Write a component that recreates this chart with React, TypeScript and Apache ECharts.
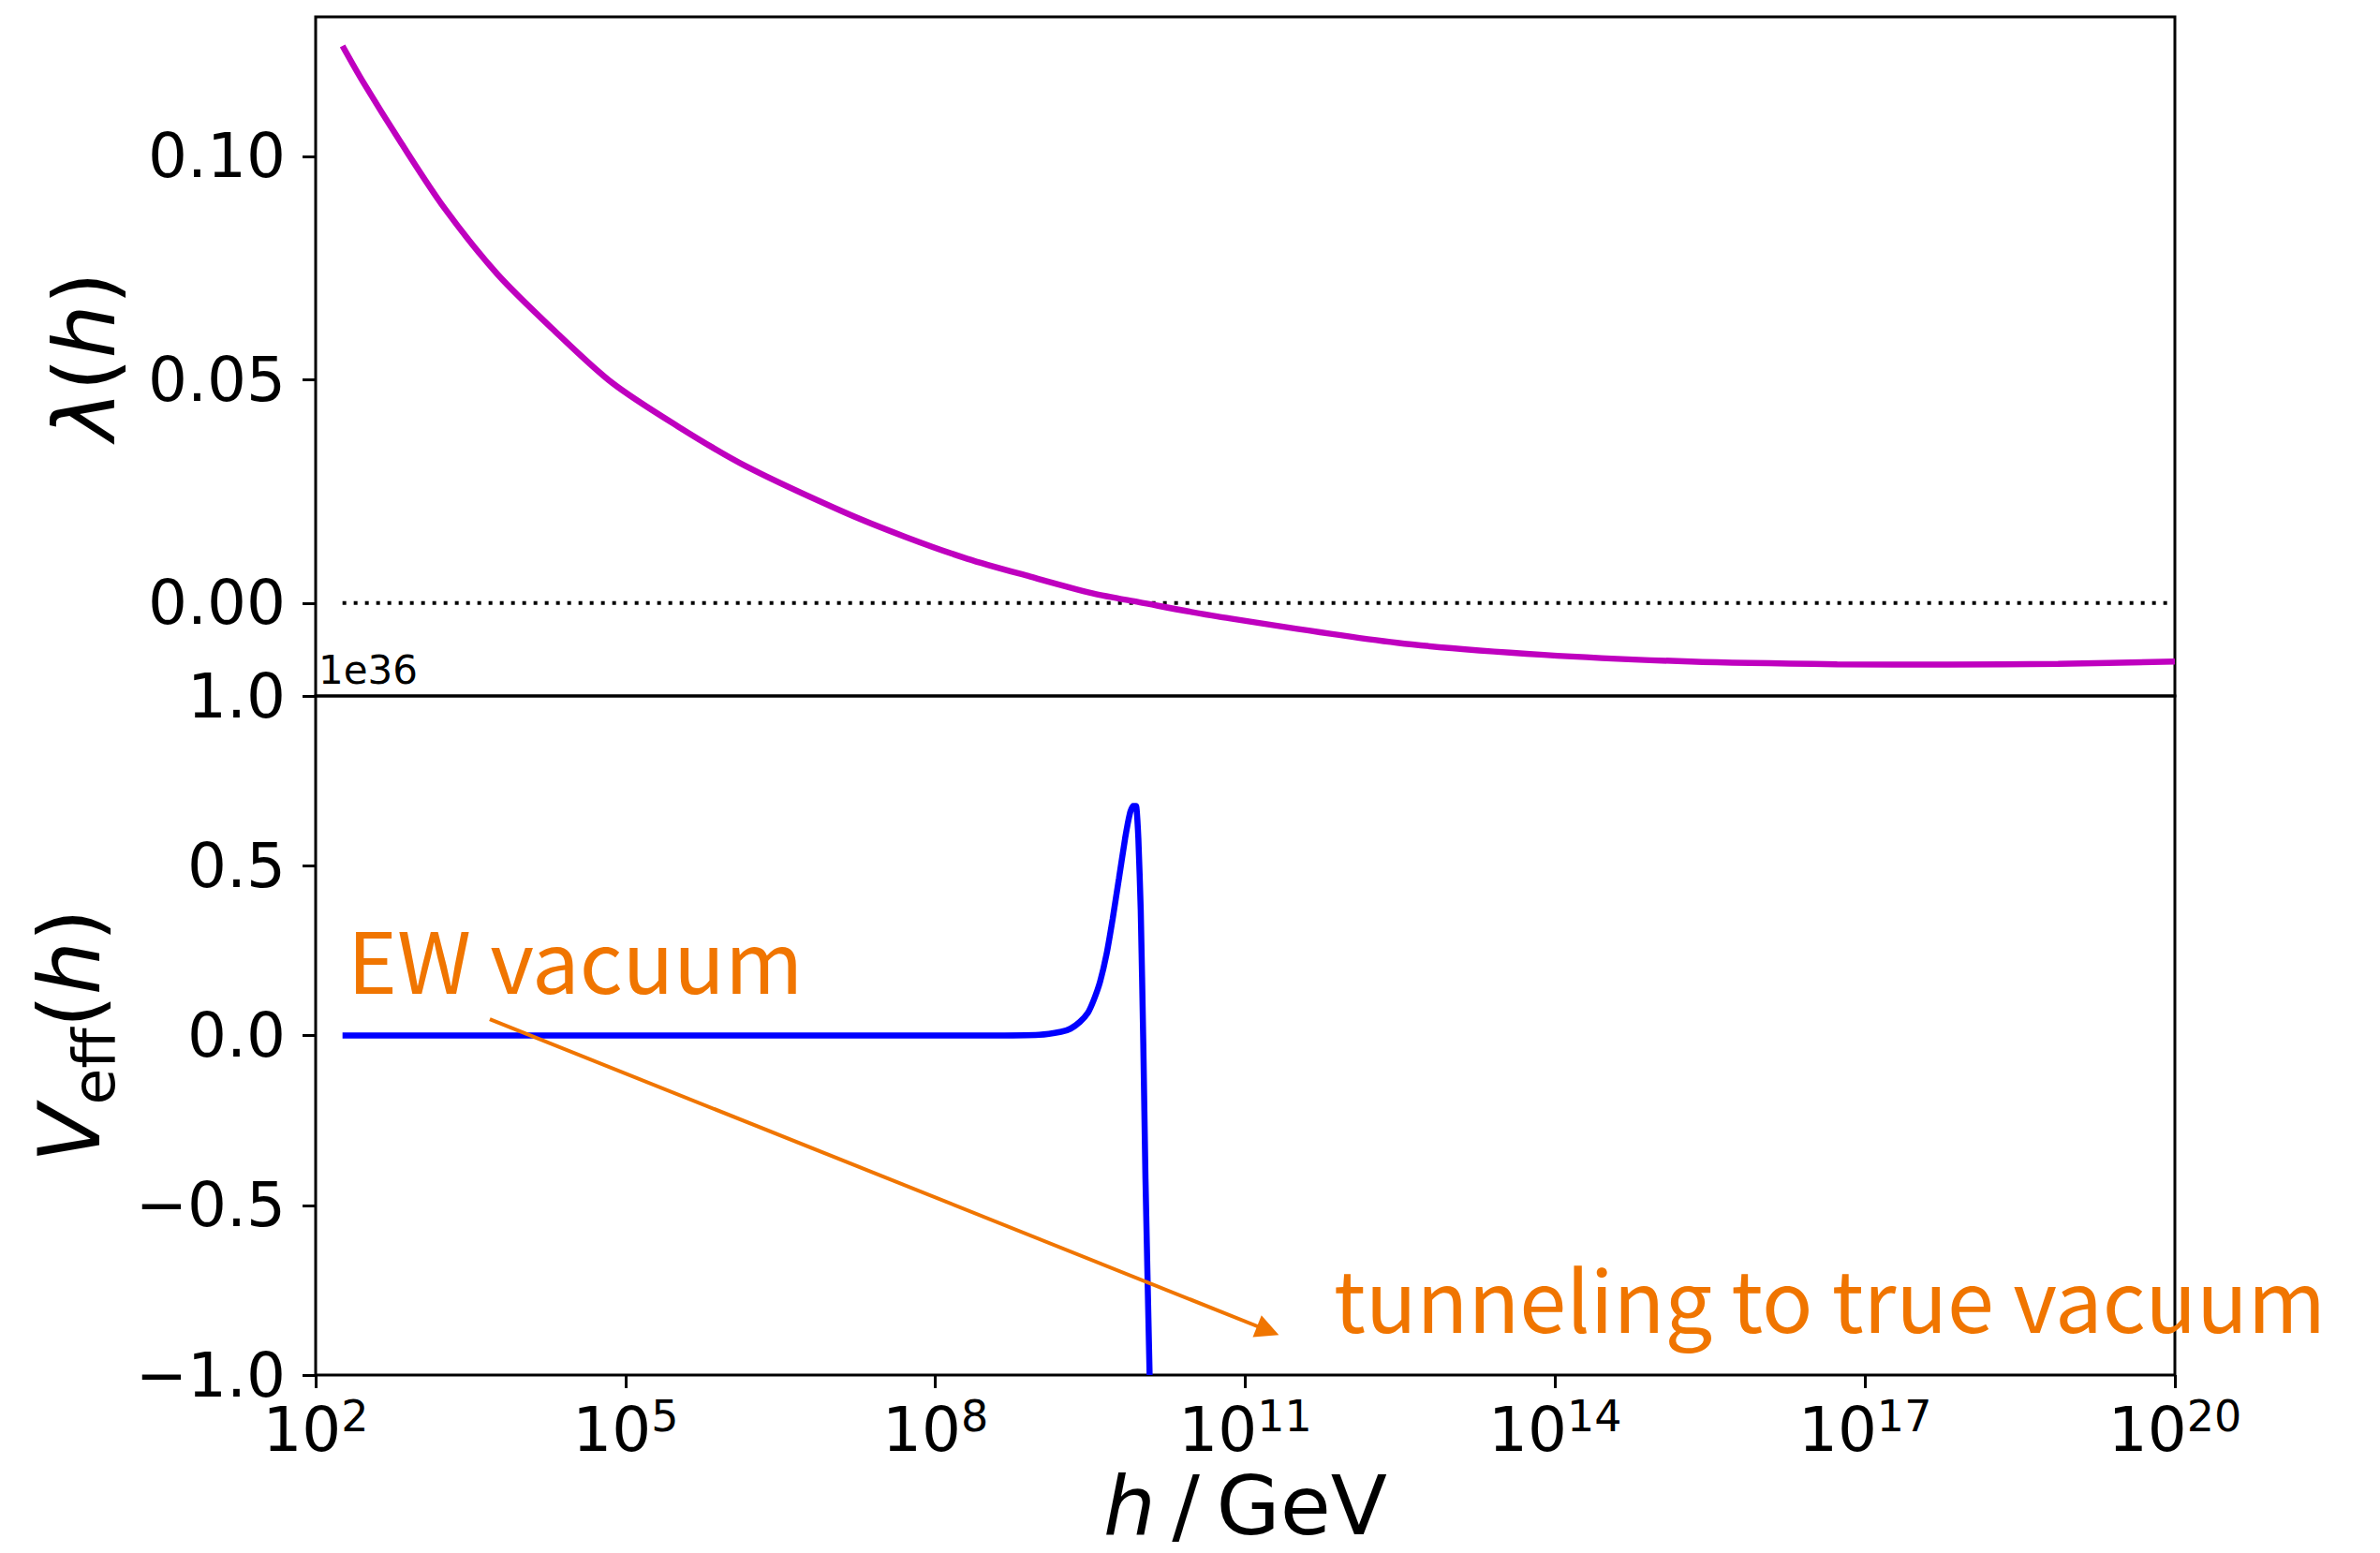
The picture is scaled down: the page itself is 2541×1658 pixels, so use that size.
import React, { useEffect, useRef } from 'react';
import * as echarts from 'echarts';

// x values are exponents: h = 10^x GeV
const lambdaLogH = [2.26, 2.46, 2.83, 3.25, 3.76, 4.31, 4.87, 5.51, 6.16, 7.1, 7.71, 8.31, 8.92, 9.52, 9.97, 10.73, 12.47, 13.89, 15.31, 16.73, 17.8, 18.87, 20.0];
const lambdaValues = [0.1247, 0.1166, 0.1029, 0.0883, 0.0736, 0.061, 0.0493, 0.0395, 0.0307, 0.0205, 0.0148, 0.0099, 0.0059, 0.0022, 0.0002, -0.003, -0.0089, -0.0116, -0.0131, -0.0137, -0.0138, -0.0136, -0.0131];

const vLogH = [2.26, 8.5, 9.006, 9.218, 9.308, 9.399, 9.475, 9.535, 9.595, 9.656, 9.716, 9.777, 9.837, 9.883, 9.913, 9.943, 9.965, 9.988, 10.013, 10.034, 10.074];
const vValues = [0.0, 0.0, 0.002, 0.011, 0.02, 0.04, 0.066, 0.106, 0.159, 0.238, 0.343, 0.462, 0.581, 0.654, 0.676, 0.676, 0.581, 0.37, -0.026, -0.422, -1.0];

const zeroLineLogH = [2.26, 20];
const zeroLineValues = [0, 0];

const xTickExponents = [2, 5, 8, 11, 14, 17, 20];
const lambdaTicks = [0, 0.05, 0.1];
const vTicks = [-1, -0.5, 0, 0.5, 1];

const arrowStart = [3.686, 0.048];
const arrowEnd = [11.22, -0.869];

const ewLabel = 'EW vacuum';
const tunnelLabel = 'tunneling to true vacuum';
const offsetLabel = '1e36';

const FONT = 'DejaVu Sans';
const JFONT = 'Noto Sans CJK JP';
const ORANGE = '#f07500';

const tickStyle = { show: true, length: 14, inside: false, lineStyle: { color: '#000', width: 3 } };
const nameRich = {
  i: { fontFamily: FONT, fontStyle: 'italic', fontSize: 90, color: '#000' },
  n: { fontFamily: FONT, fontSize: 90, color: '#000' },
  sub: { fontFamily: FONT, fontSize: 63, color: '#000', padding: [52, 0, 0, 0] },
};
const xNameRich = {
  i: { fontFamily: FONT, fontStyle: 'italic', fontSize: 88, lineHeight: 88, color: '#000' },
  n: { fontFamily: FONT, fontSize: 88, lineHeight: 88, color: '#000' },
};

const fmtMinus = (v: number, d: number) => (v < -1e-12 ? '\u2212' : '') + Math.abs(v).toFixed(d);

export default function App() {
  const ref = useRef<HTMLDivElement>(null);
  useEffect(() => {
    if (!ref.current) return;
    const chart = echarts.init(ref.current, null, { renderer: 'svg' });
    const option: any = {
      animation: false,
      backgroundColor: '#ffffff',
      grid: [
        { left: 337, top: 18, width: 1985, height: 725, show: true, borderColor: '#000', borderWidth: 3 },
        { left: 337, top: 743, width: 1985, height: 725, show: true, borderColor: '#000', borderWidth: 3 },
      ],
      xAxis: [
        {
          type: 'value', gridIndex: 0, min: 2, max: 20, position: 'bottom',
          axisLine: { show: false, onZero: false }, axisTick: { show: false }, axisLabel: { show: false }, splitLine: { show: false },
        },
        {
          type: 'value', gridIndex: 1, min: 2, max: 20, interval: 3, position: 'bottom',
          axisLine: { show: false, onZero: false },
          axisTick: { ...tickStyle, customValues: xTickExponents },
          axisLabel: {
            customValues: xTickExponents,
            margin: 21,
            formatter: (v: number) => `{b|10}{s|${Math.round(v)}}`,
            rich: {
              b: { fontFamily: FONT, fontSize: 66, color: '#000' },
              s: { fontFamily: FONT, fontSize: 46, color: '#000', padding: [0, 0, 28, 0] },
            },
          },
          splitLine: { show: false },
          name: '{i|h}{n|\u2009/\u2009GeV}',
          nameLocation: 'middle',
          nameGap: 95,
          nameTextStyle: { rich: xNameRich },
        },
      ],
      yAxis: [
        {
          type: 'value', gridIndex: 0, min: -0.0208, max: 0.1312,
          axisLine: { show: false, onZero: false },
          axisTick: { ...tickStyle, customValues: lambdaTicks },
          axisLabel: {
            customValues: lambdaTicks,
            formatter: (v: number) => fmtMinus(v, 2),
            fontFamily: FONT, fontSize: 66, color: '#000', margin: 32,
          },
          splitLine: { show: false },
          name: '{i|λ}{n|(}{i|h}{n|)}',
          nameLocation: 'middle',
          nameRotate: 90,
          nameGap: 202,
          nameTextStyle: { rich: nameRich },
        },
        {
          type: 'value', gridIndex: 1, min: -1, max: 1, interval: 0.5,
          axisLine: { show: false, onZero: false },
          axisTick: { ...tickStyle, customValues: vTicks },
          axisLabel: {
            customValues: vTicks,
            formatter: (v: number) => fmtMinus(v, 1),
            fontFamily: FONT, fontSize: 66, color: '#000', margin: 32,
          },
          splitLine: { show: false },
          name: '{i|V}{sub|eff}{n|(}{i|h}{n|)}',
          nameLocation: 'middle',
          nameRotate: 90,
          nameGap: 205,
          nameTextStyle: { rich: nameRich },
        },
      ],
      series: [
        {
          type: 'line', xAxisIndex: 0, yAxisIndex: 0,
          data: zeroLineLogH.map((x, i) => [x, zeroLineValues[i]]),
          symbol: 'none', silent: true,
          lineStyle: { color: '#000', width: 4, type: [4, 8] },
          z: 2,
        },
        {
          type: 'line', xAxisIndex: 0, yAxisIndex: 0,
          data: lambdaLogH.map((x, i) => [x, lambdaValues[i]]),
          symbol: 'none', smooth: 0.3,
          lineStyle: { color: '#bf00bf', width: 6.5 },
          z: 3,
        },
        {
          type: 'line', xAxisIndex: 1, yAxisIndex: 1,
          data: vLogH.map((x, i) => [x, vValues[i]]),
          symbol: 'none', clip: true, smooth: 0.15,
          lineStyle: { color: '#0000ff', width: 6.5 },
          z: 3,
          markLine: {
            silent: true,
            animation: false,
            symbol: ['none', 'triangle'],
            symbolSize: 25,
            label: { show: false },
            lineStyle: { color: ORANGE, width: 4, type: 'solid' },
            data: [[{ coord: arrowStart }, { coord: arrowEnd }]],
          },
        },
      ],
      graphic: [
        {
          type: 'text', x: 340, y: 715, z: 10,
          style: { text: offsetLabel, fontFamily: FONT, fontSize: 42, fill: '#000', align: 'left', verticalAlign: 'middle' },
        },
        {
          type: 'text', x: 371, y: 1022, z: 10,
          style: { text: ewLabel, fontFamily: JFONT, fontSize: 90, fill: ORANGE, align: 'left', verticalAlign: 'middle' },
        },
        {
          type: 'text', x: 1424, y: 1384, z: 10,
          style: { text: tunnelLabel, fontFamily: JFONT, fontSize: 90, fill: ORANGE, align: 'left', verticalAlign: 'middle' },
        },
      ],
    };
    chart.setOption(option);
    return () => chart.dispose();
  }, []);
  return (
    <div
      ref={ref}
      style={{ position: 'absolute', left: 0, top: 0, width: 2541, height: 1658, background: '#fff' }}
    />
  );
}
